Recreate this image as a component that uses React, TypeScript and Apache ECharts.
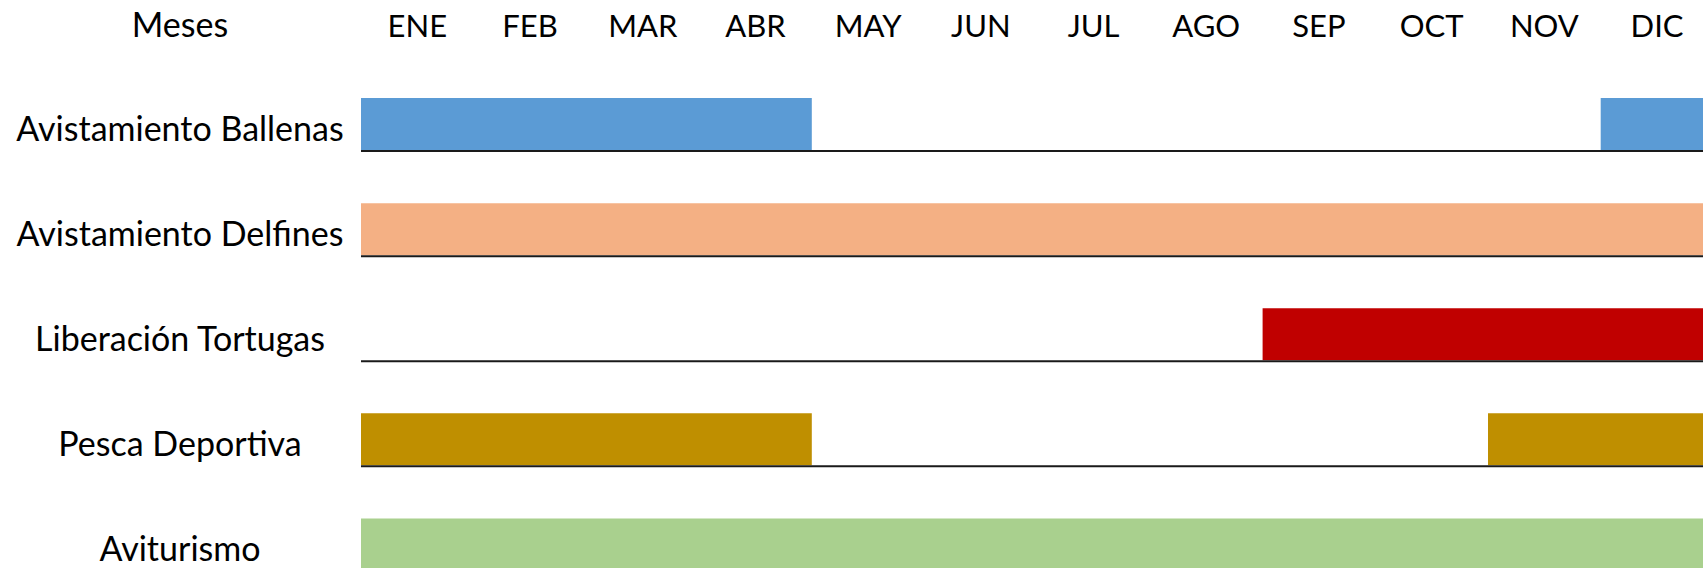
import React, { useEffect, useRef } from "react";
import * as echarts from "echarts";

const months = ["ENE", "FEB", "MAR", "ABR", "MAY", "JUN", "JUL", "AGO", "SEP", "OCT", "NOV", "DIC"];
const activities = [
  "Avistamiento Ballenas",
  "Avistamiento Delfines",
  "Liberación Tortugas",
  "Pesca Deportiva",
  "Aviturismo",
];
// periods as [start month index, end month index) on a 0..12 scale
const ballenas = [[0, 4], [11, 12]];
const delfines = [[0, 12]];
const tortugas = [[8, 12]];
const pesca = [[0, 4], [10, 12]];
const aviturismo = [[0, 12]];
const periods = [ballenas, delfines, tortugas, pesca, aviturismo];
const colors = ["#5B9BD5", "#F4B084", "#C00000", "#BF8F00", "#A9D08E"];

const FONT = "Lato, 'Noto Sans', sans-serif";
const FS_MONTH = 31;
const FS_ROW = 34;
const BAR_H = 52;
const BAR_SHIFT = 3.5; // bars sit slightly above the row label's centre line

export default function App() {
  const ref = useRef<HTMLDivElement>(null);
  useEffect(() => {
    document.body.style.overflow = "hidden";
    if (!ref.current) return;
    const chart = echarts.init(ref.current, undefined, { renderer: "svg" });
    const barData: any[] = [];
    periods.forEach((list, row) => {
      list.forEach(([s, e]) => {
        barData.push({ value: [s, e, row], itemStyle: { color: colors[row] } });
      });
    });
    const lineData = activities.map((_, row) => [0, 12, row]);
    chart.setOption({
      animation: false,
      backgroundColor: "#ffffff",
      grid: { left: 361, top: 71.5 + BAR_SHIFT, right: 0.6, bottom: 0.5, containLabel: false },
      xAxis: [
        { type: "value", min: 0, max: 12, show: false },
        {
          type: "category",
          data: months,
          position: "top",
          boundaryGap: true,
          axisLine: { show: false },
          axisTick: { show: false },
          splitLine: { show: false },
          axisLabel: {
            interval: 0,
            color: "#000",
            fontFamily: FONT,
            fontSize: FS_MONTH,
            verticalAlign: "middle",
            margin: 46.5 + BAR_SHIFT,
          },
        },
      ],
      yAxis: {
        type: "category",
        data: activities,
        inverse: true,
        axisLine: { show: false },
        axisTick: { show: false },
        splitLine: { show: false },
        axisLabel: {
          interval: 0,
          color: "#000",
          fontFamily: FONT,
          fontSize: FS_ROW,
          align: "center",
          verticalAlign: "middle",
          margin: 181,
        },
      },
      graphic: [
        {
          type: "text",
          x: 180,
          y: 23,
          style: {
            text: "Meses",
            fill: "#000",
            font: `${FS_ROW}px ${FONT}`,
            align: "center",
            verticalAlign: "middle",
          },
        },
      ],
      series: [
        {
          type: "custom",
          xAxisIndex: 0,
          encode: { x: [0, 1], y: 2 },
          data: barData,
          renderItem: (params: any, api: any) => {
            const row = api.value(2);
            const s = api.coord([api.value(0), row]);
            const e = api.coord([api.value(1), row]);
            return {
              type: "rect",
              shape: {
                x: s[0],
                y: s[1] - BAR_SHIFT - BAR_H / 2,
                width: e[0] - s[0],
                height: BAR_H,
              },
              style: { fill: api.visual("color") },
            };
          },
        },
        {
          type: "custom",
          xAxisIndex: 0,
          encode: { x: [0, 1], y: 2 },
          data: lineData,
          z: 5,
          renderItem: (params: any, api: any) => {
            const row = api.value(2);
            const s = api.coord([api.value(0), row]);
            const e = api.coord([api.value(1), row]);
            const y = s[1] - BAR_SHIFT + BAR_H / 2 + 1;
            return {
              type: "line",
              shape: { x1: s[0], y1: y, x2: e[0], y2: y },
              style: { stroke: "#1a1a1a", lineWidth: 2 },
            };
          },
        },
      ],
    });
    return () => chart.dispose();
  }, []);
  return (
    <div
      ref={ref}
      style={{ position: "fixed", left: 0, top: 0, width: 1714, height: 597 + BAR_SHIFT }}
    />
  );
}
